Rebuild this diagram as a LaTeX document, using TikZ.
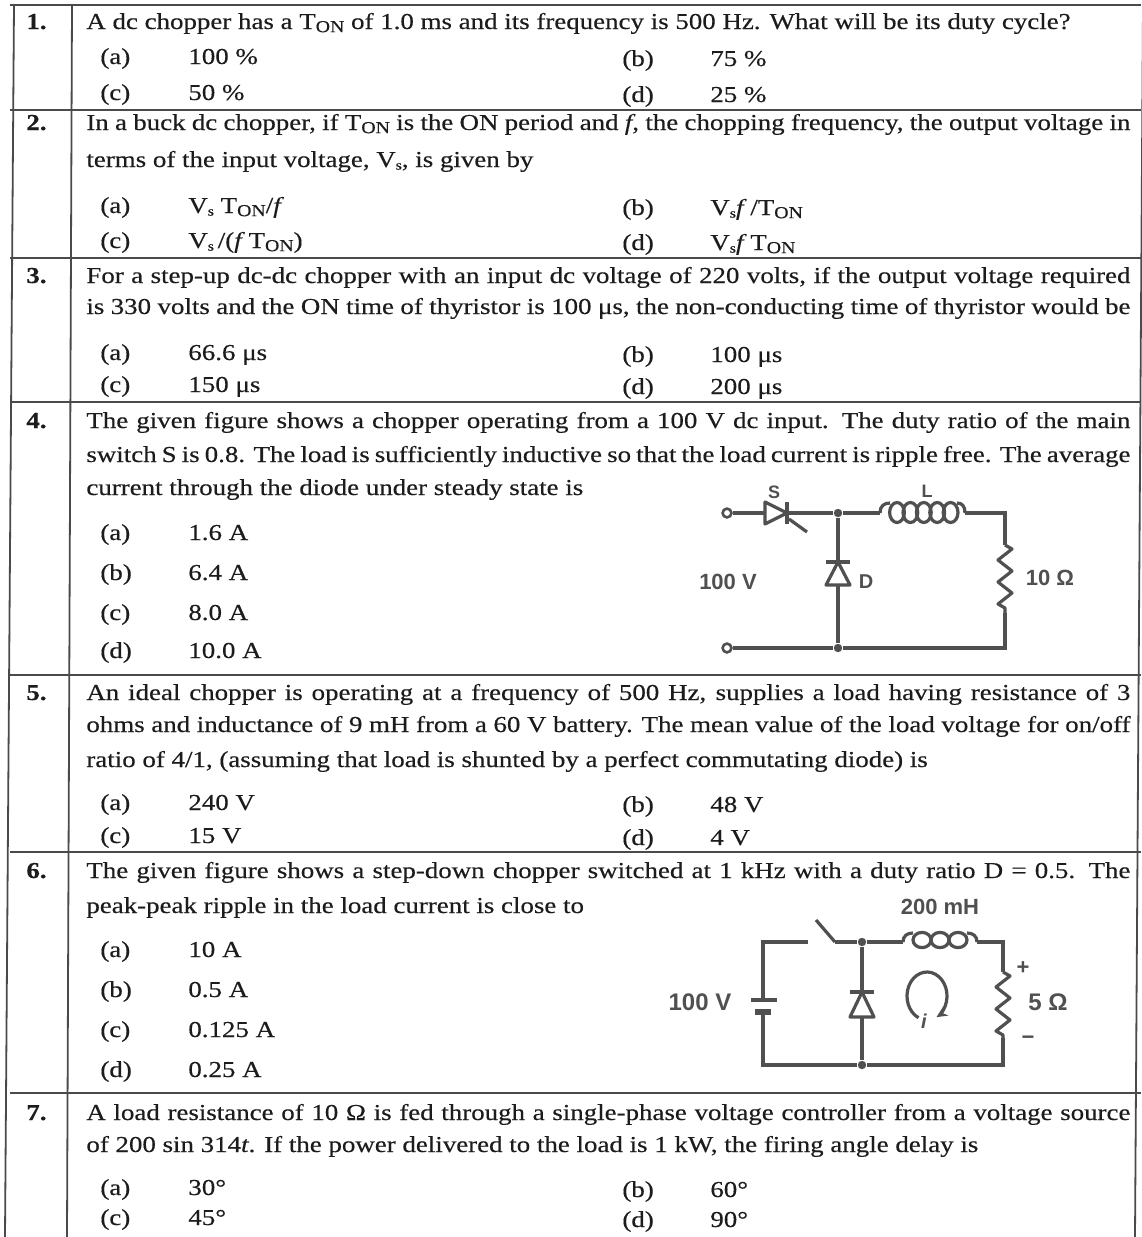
\documentclass[tikz,border=0pt]{standalone}
\usepackage{fontspec}
\setmainfont[FakeStretch=1.18,FakeBold=0.4]{Liberation Serif}
\newfontfamily\cktsans{Liberation Sans}
\usetikzlibrary{arrows.meta}

\definecolor{ink}{HTML}{1C1C1C}
\definecolor{lineink}{HTML}{4A4A4A}
\definecolor{cktink}{HTML}{505050}

\newcommand{\lowtxt}[1]{\raisebox{-0.3ex}{\fontsize{8.4pt}{9pt}\selectfont #1}}
\newcommand{\Ton}{T\lowtxt{ON}}
\newcommand{\Vsub}{V\raisebox{-0.25ex}{\fontsize{6.7pt}{7pt}\selectfont s}}
\newcommand{\optl}[2]{\makebox[44pt][l]{(#1)}#2}
\newcommand{\jline}[1]{\makebox[522pt][s]{#1}}

\begin{document}
\begin{tikzpicture}
  [x=0.5pt,y=-0.5pt,
  every node/.style={inner sep=0pt,text=ink},
  q text/.style={anchor=base west,font=\fontsize{11.4pt}{13pt}\selectfont},
  q num/.style={anchor=base west,font=\fontsize{11.4pt}{13pt}\selectfont\bfseries},
  table rule/.style={draw=lineink,line width=0.9pt},
  wire/.style={draw=cktink,line width=1.6pt},
  ckt label/.style={font=\cktsans\bfseries\fontsize{11pt}{11pt}\selectfont,text=cktink},
  small label/.style={font=\cktsans\bfseries\fontsize{9pt}{9pt}\selectfont,text=cktink},
  term/.style={circle,draw=cktink,line width=1.3pt,fill=white,minimum size=4.4pt},
  junction/.style={circle,fill=cktink,minimum size=4.2pt}]
  \useasboundingbox (0,0) rectangle (1141,1237);

  % table
  \foreach \yy in {5,110,258,402,675,852,1093}
    \draw[table rule] (10,\yy) -- (1141,\yy);
  \draw[table rule] (14,5) -- (5,1237);
  \draw[table rule] (72,5) -- (67,1237);
  \draw[table rule] (1143,5) -- (1135,1237);

  % question numbers
  \foreach \nm/\yy in {1/29,2/130,3/283,4/428,5/700,6/878,7/1120}
    \node[q num] (n\nm) at (26,\yy) {\nm.};

  % Q1
  \node[q text] (q1) at (86,29) {A dc chopper has a \Ton{} of 1.0 ms and its frequency is 500 Hz. What will be its duty cycle?};
  \foreach \nm/\xx/\yy/\lt/\val in {1a/100/64/a/100 \%,1b/622/66/b/75 \%,1c/100/100/c/50 \%,1d/622/102/d/25 \%}
    \node[q text] (q\nm) at (\xx,\yy) {\optl{\lt}{\val}};

  % Q2
  \node[q text] (q2) at (86,130) {\jline{In a buck dc chopper, if \Ton{} is the ON period and \textit{f}, the chopping frequency, the output voltage in}};
  \node[q text] (q2l) at (86,167) {terms of the input voltage, \Vsub, is given by};
  \foreach \nm/\xx/\yy/\lt/\val in {2a/100/213/a/{\Vsub\ \Ton\slash\textit{f}},2b/622/215/b/{\Vsub\textit{f}\,\slash\Ton},2c/100/248/c/{\Vsub\,\slash(\textit{f}\,\Ton)},2d/622/250/d/{\Vsub\textit{f}\,\Ton}}
    \node[q text] (q\nm) at (\xx,\yy) {\optl{\lt}{\val}};

  % Q3
  \node[q text] (q3) at (86,283) {\jline{For a step-up dc-dc chopper with an input dc voltage of 220 volts, if the output voltage required}};
  \node[q text] (q3l) at (86,314) {\jline{is 330 volts and the ON time of thyristor is 100 μs, the non-conducting time of thyristor would be}};
  \foreach \nm/\xx/\yy/\lt/\val in {3a/100/360/a/66.6 μs,3b/622/362/b/100 μs,3c/100/392/c/150 μs,3d/622/394/d/200 μs}
    \node[q text] (q\nm) at (\xx,\yy) {\optl{\lt}{\val}};

  % Q4
  \node[q text] (q4) at (86,428) {\jline{The given figure shows a chopper operating from a 100 V dc input. The duty ratio of the main}};
  \node[q text] (q4l) at (86,462) {\jline{switch S is 0.8. The load is sufficiently inductive so that the load current is ripple free. The average}};
  \node[q text] (q4m) at (86,495) {current through the diode under steady state is};
  \foreach \nm/\yy/\lt/\val in {4a/540/a/1.6 A,4b/580/b/6.4 A,4c/620/c/8.0 A,4d/658/d/10.0 A}
    \node[q text] (q\nm) at (100,\yy) {\optl{\lt}{\val}};

  % Q4 circuit
  \node[term] (inP) at (727,513) {};
  \node[term] (inN) at (727,648) {};
  \coordinate (thA) at (765,513);
  \coordinate (thK) at (787,513);
  \node[junction] (jTop) at (838,513) {};
  \node[junction] (jBot) at (838,648) {};
  \coordinate (dK) at (838,562);
  \coordinate (dA) at (838,585);
  \coordinate (Lin) at (880,513);
  \coordinate (Lout) at (965,513);
  \coordinate (Rtop) at (1005,545);
  \coordinate (Rbot) at (1005,613);
  \draw[wire] (inP) -- (thA);
  \draw[wire,line join=round] (765,502) -- (765,524) -- (thK) -- cycle;
  \draw[wire] (787,502) -- (787,524);
  \draw[wire] (789,519) -- (807,532);
  \draw[wire] (thK) -- (jTop) -- (Lin);
  % coil L
  \draw[wire] (Lin) .. controls (880,506) and (884,503) .. (890,503);
  \foreach \k in {0,...,4}
    \draw[wire] (897+13.4*\k,512.5) ellipse[x radius=3.7pt,y radius=5pt];
  \draw[wire] (957,503) .. controls (962,503) and (965,506) .. (Lout);
  \draw[wire] (Lout) -| (Rtop);
  \draw[wire,line join=round] (Rtop) -- ++(7,4) -- ++(-14,11) -- ++(14,11) -- ++(-14,11) -- ++(14,11) -- ++(-14,11) -- ++(7,4) -- (Rbot);
  \draw[wire] (Rbot) |- (jBot) -- (inN);
  \draw[wire] (jTop) -- (dK);
  \draw[wire] (dA) -- (jBot);
  \draw[wire] (826,562) -- (850,562);
  \draw[wire,line join=round] (826,585) -- (850,585) -- (dK) -- cycle;
  \node[small label] (lblS) at (774,492) {S};
  \node[small label] (lblL) at (927,491) {L};
  \node[small label,font=\cktsans\bfseries\fontsize{10pt}{10pt}\selectfont] (lblD) at (866,582) {D};
  \node[ckt label] (lblV1) at (728,582) {100 V};
  \node[ckt label] (lblR1) at (1050,578) {10 Ω};

  % Q5
  \node[q text] (q5) at (86,700) {\jline{An ideal chopper is operating at a frequency of 500 Hz, supplies a load having resistance of 3}};
  \node[q text] (q5l) at (86,732) {\jline{ohms and inductance of 9 mH from a 60 V battery. The mean value of the load voltage for on/off}};
  \node[q text] (q5m) at (86,767) {ratio of 4/1, (assuming that load is shunted by a perfect commutating diode) is};
  \foreach \nm/\xx/\yy/\lt/\val in {5a/100/810/a/240 V,5b/622/812/b/48 V,5c/100/843/c/15 V,5d/622/845/d/4 V}
    \node[q text] (q\nm) at (\xx,\yy) {\optl{\lt}{\val}};

  % Q6
  \node[q text] (q6) at (86,878) {\jline{The given figure shows a step-down chopper switched at 1 kHz with a duty ratio D = 0.5. The}};
  \node[q text] (q6l) at (86,913) {peak-peak ripple in the load current is close to};
  \foreach \nm/\yy/\lt/\val in {6a/957/a/10 A,6b/997/b/0.5 A,6c/1037/c/0.125 A,6d/1077/d/0.25 A}
    \node[q text] (q\nm) at (100,\yy) {\optl{\lt}{\val}};

  % Q6 circuit
  \coordinate (cTL) at (763,942);
  \coordinate (cBL) at (763,1065);
  \coordinate (batP) at (763,1000);
  \coordinate (batN) at (763,1012);
  \coordinate (swA) at (808,942);
  \coordinate (swB) at (835,942);
  \coordinate (swTip) at (816,920);
  \node[junction] (jT2) at (862,942) {};
  \node[junction] (jB2) at (862,1065) {};
  \coordinate (d2K) at (862,992);
  \coordinate (d2A) at (862,1017);
  \coordinate (L2in) at (903,942);
  \coordinate (L2out) at (977,942);
  \coordinate (R2top) at (1003,972);
  \coordinate (R2bot) at (1003,1038);
  \draw[wire] (batP) -- (cTL) -- (swA);
  \draw[wire] (swB) -- (swTip);
  \draw[wire] (swB) -- (jT2) -- (L2in);
  % coil 200 mH
  \draw[wire] (L2in) .. controls (903,936) and (907,933) .. (913,933);
  \foreach \k in {0,...,2}
    \draw[wire] (922+18*\k,940) ellipse[x radius=4.5pt,y radius=3.8pt];
  \draw[wire] (967,933) .. controls (973,933) and (977,936) .. (L2out);
  \draw[wire] (L2out) -| (R2top);
  \draw[wire,line join=round] (R2top) -- ++(7,4) -- ++(-14,11) -- ++(14,11) -- ++(-14,11) -- ++(14,11) -- ++(-14,11) -- ++(7,4) -- (R2bot);
  \draw[wire] (R2bot) |- (jB2) -- (cBL) -- (batN);
  \draw[wire] (751,1000) -- (777,1000);
  \draw[draw=cktink,line width=2.8pt] (755,1012) -- (771,1012);
  \draw[wire] (jT2) -- (d2K);
  \draw[wire] (d2A) -- (jB2);
  \draw[wire] (850,992) -- (874,992);
  \draw[wire,line join=round] (850,1017) -- (874,1017) -- (d2K) -- cycle;
  \draw[wire,-{Stealth[length=5.5pt,width=5pt]}] (927,996) ++(245:10pt and 12pt)
    arc[start angle=245,end angle=-62,x radius=10pt,y radius=12pt];
  \node[ckt label] (lblL2) at (940,907) {200 mH};
  \node[ckt label,font=\cktsans\bfseries\fontsize{12pt}{12pt}\selectfont] (lblV2) at (700,1002) {100 V};
  \node[ckt label] (lblPlus) at (1023,968) {+};
  \node[ckt label] (lblMinus) at (1028,1040) {−};
  \node[ckt label,font=\cktsans\bfseries\fontsize{12pt}{12pt}\selectfont] (lblR2) at (1048,1002) {5 Ω};
  \node[ckt label,font=\cktsans\bfseries\itshape\fontsize{10pt}{10pt}\selectfont] (lblI) at (924,1021) {i};

  % Q7
  \node[q text] (q7) at (86,1120) {\jline{A load resistance of 10 Ω is fed through a single-phase voltage controller from a voltage source}};
  \node[q text] (q7l) at (86,1152) {of 200 sin 314\textit{t}. If the power delivered to the load is 1 kW, the firing angle delay is};
  \foreach \nm/\xx/\yy/\lt/\val in {7a/100/1195/a/30°,7b/622/1197/b/60°,7c/100/1225/c/45°,7d/622/1227/d/90°}
    \node[q text] (q\nm) at (\xx,\yy) {\optl{\lt}{\val}};
\end{tikzpicture}
\end{document}
